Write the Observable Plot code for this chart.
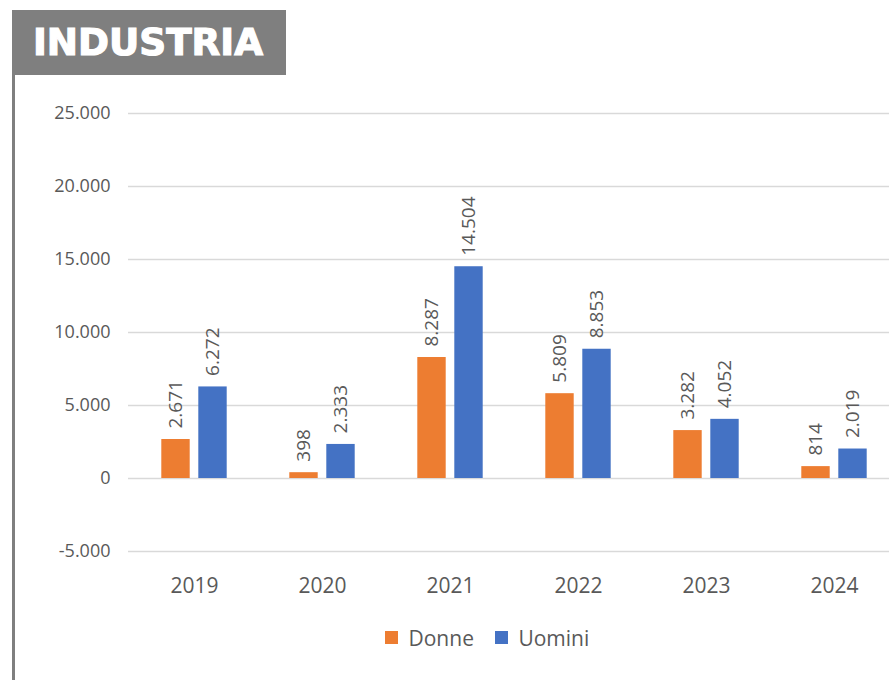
<!DOCTYPE html>
<html>
<head>
<meta charset="utf-8">
<script src="https://cdn.jsdelivr.net/npm/d3@7"></script>
<script src="https://cdn.jsdelivr.net/npm/@observablehq/plot@0.6"></script>
<style>
  html, body { margin: 0; padding: 0; background: #fff; overflow: hidden; }
  #wrap { position: relative; width: 889px; height: 680px; overflow: hidden; font-family: "Open Sans", sans-serif; }
  #title { position: absolute; left: 12px; top: 10px; }
  #vline { position: absolute; left: 12px; top: 75px; width: 3px; height: 605px; background: #7f7f7f; }
  #chart { position: absolute; left: 0; top: 0; }
  #legend { position: absolute; left: 385px; top: 621px; }
</style>
</head>
<body>
<div id="wrap">
  <div id="chart"></div>
  <div id="vline"></div>
  <svg id="title" width="274" height="65">
    <rect x="0" y="0" width="274" height="65" fill="#7f7f7f"></rect>
    <text x="21" y="45" fill="#ffffff" stroke="#ffffff" stroke-width="1.2" font-family="'DejaVu Sans', sans-serif" font-weight="bold" font-size="38" textLength="230" lengthAdjust="spacingAndGlyphs">INDUSTRIA</text>
  </svg>
  <div id="legend"></div>
</div>
<script>
const years = ["2019", "2020", "2021", "2022", "2023", "2024"];
const donne = [2671, 398, 8287, 5809, 3282, 814];
const uomini = [6272, 2333, 14504, 8853, 4052, 2019];
const seriesNames = ["Donne", "Uomini"];
const seriesColors = ["#ED7D31", "#4472C4"];
const yTicks = [-5000, 0, 5000, 10000, 15000, 20000, 25000];

const locale = d3.formatLocale({decimal: ",", thousands: ".", grouping: [3], currency: ["€", ""], minus: "-"});
const fmt = locale.format(",d");

const rows = [];
years.forEach((y, i) => {
  rows.push({year: y, series: seriesNames[0], value: donne[i]});
  rows.push({year: y, series: seriesNames[1], value: uomini[i]});
});
const dRows = rows.filter(d => d.series === "Donne");
const uRows = rows.filter(d => d.series === "Uomini");

const textColor = "#595959";

const chart = Plot.plot({
  width: 889,
  height: 600,
  marginTop: 113,
  marginBottom: 49,
  marginLeft: 128,
  marginRight: 0,
  style: {fontFamily: "'Open Sans', sans-serif", background: "transparent", overflow: "visible"},
  x: {domain: years, padding: 0, range: [128, 900], label: null},
  y: {domain: [-5000, 25000], label: null},
  color: {domain: seriesNames, range: seriesColors},
  marks: [
    Plot.gridY(yTicks, {stroke: "#d9d9d9", strokeOpacity: 1, strokeWidth: 1.6}),
    Plot.axisY(yTicks, {tickSize: 0, tickPadding: 18, tickFormat: fmt, fontSize: 18, fill: textColor, label: null}),
    Plot.axisX({tickSize: 0, tickPadding: 27, fontSize: 21, fill: textColor, label: null}),
    Plot.barY(dRows, {x: "year", y: "value", fill: "series", insetLeft: 31.3, insetRight: 68.3}),
    Plot.barY(uRows, {x: "year", y: "value", fill: "series", insetLeft: 68.3, insetRight: 31.3}),
    Plot.text(dRows, {x: "year", y: "value", text: d => fmt(d.value), rotate: -90, textAnchor: "start", lineAnchor: "middle", dx: -18.5, dy: -11, fontSize: 19, fill: textColor}),
    Plot.text(uRows, {x: "year", y: "value", text: d => fmt(d.value), rotate: -90, textAnchor: "start", lineAnchor: "middle", dx: 18.5, dy: -11, fontSize: 19, fill: textColor})
  ]
});
document.getElementById("chart").appendChild(chart);

const legend = Plot.legend({
  color: {domain: seriesNames, range: seriesColors},
  legend: "swatches",
  swatchSize: 13,
  style: {fontFamily: "'Open Sans', sans-serif", fontSize: "21px", color: textColor}
});
document.getElementById("legend").appendChild(legend);
</script>
</body>
</html>
